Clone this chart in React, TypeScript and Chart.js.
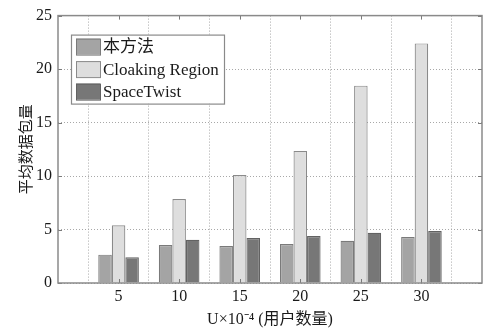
import React, { useEffect, useRef } from "react";
import { Chart, registerables } from "chart.js";

Chart.register(...registerables);

const categories = ["5", "10", "15", "20", "25", "30"];
const seriesNames = ["本方法", "Cloaking Region", "SpaceTwist"];
const ourMethod = [2.65, 3.55, 3.45, 3.65, 3.95, 4.3];
const cloakingRegion = [5.4, 7.85, 10.1, 12.35, 18.45, 22.4];
const spaceTwist = [2.4, 4.05, 4.2, 4.4, 4.7, 4.85];
const yTicks = [0, 5, 10, 15, 20, 25];

const fills = ["#a4a4a4", "#dedede", "#777777"];
const borders = ["#7a7a7a", "#8a8a8a", "#626262"];

const SERIF = '"Liberation Serif", "Times New Roman", "Noto Sans CJK SC", serif';

const pad = (arr: number[]) => [null, ...arr, null];

const boxPlugin = {
  id: "matlabBox",
  afterDatasetsDraw(chart: any) {
    const { ctx, chartArea: a, scales } = chart;
    ctx.save();
    ctx.strokeStyle = "#7a7a7a";
    ctx.lineWidth = 1;
    const xs = scales.x;
    for (let i = 1; i < xs.ticks.length - 1; i++) {
      const px = Math.round(xs.getPixelForTick(i)) + 0.5;
      ctx.beginPath();
      ctx.moveTo(px, a.bottom);
      ctx.lineTo(px, a.bottom - 4);
      ctx.moveTo(px, a.top);
      ctx.lineTo(px, a.top + 4);
      ctx.stroke();
    }
    const ys = scales.y;
    for (const v of yTicks) {
      const py = Math.round(ys.getPixelForValue(v)) + 0.5;
      ctx.beginPath();
      ctx.moveTo(a.left, py);
      ctx.lineTo(a.left + 4, py);
      ctx.moveTo(a.right, py);
      ctx.lineTo(a.right - 4, py);
      ctx.stroke();
    }
    ctx.strokeStyle = "#8a8a8a";
    ctx.lineWidth = 1.5;
    ctx.strokeRect(a.left, a.top, a.right - a.left, a.bottom - a.top);

    // legend box
    const lx = a.left + 13;
    const ly = a.top + 19;
    const lw = 153;
    const lh = 69;
    ctx.fillStyle = "#ffffff";
    ctx.fillRect(lx, ly, lw, lh);
    ctx.strokeStyle = "#8a8a8a";
    ctx.lineWidth = 1.2;
    ctx.strokeRect(lx + 0.5, ly + 0.5, lw, lh);
    ctx.font = "17px " + SERIF;
    ctx.textBaseline = "middle";
    ctx.textAlign = "left";
    chart.data.datasets.forEach((ds: any, i: number) => {
      const cy = ly + 12 + i * 22.5;
      ctx.fillStyle = ds.backgroundColor;
      ctx.fillRect(lx + 5, cy - 8, 24, 16);
      ctx.strokeStyle = ds.borderColor;
      ctx.lineWidth = 1;
      ctx.strokeRect(lx + 5.5, cy - 7.5, 24, 16);
      ctx.fillStyle = "#1a1a1a";
      ctx.fillText(ds.label, lx + 32, cy + 1);
    });
    ctx.restore();
  },
};

export default function App() {
  const ref = useRef<HTMLCanvasElement | null>(null);
  useEffect(() => {
    document.body.style.margin = "0";
    const canvas = ref.current;
    if (!canvas) return;
    const chart = new Chart(canvas, {
      type: "bar",
      data: {
        labels: ["", ...categories, ""],
        datasets: [ourMethod, cloakingRegion, spaceTwist].map((vals, i) => ({
          label: seriesNames[i],
          data: pad(vals) as any,
          backgroundColor: fills[i],
          borderColor: borders[i],
          borderWidth: 1.2,
          categoryPercentage: 0.67,
          barPercentage: 1.0,
        })),
      },
      options: {
        animation: false,
        responsive: false,
        maintainAspectRatio: false,
        layout: { padding: { top: 10, right: 2, left: 0, bottom: 0 } },
        plugins: {
          legend: { display: false },
          tooltip: { enabled: false },
        },
        scales: {
          x: {
            type: "category",
            offset: false,
            grid: {
              color: "#a8a8a8",
              lineWidth: 1,
              drawTicks: false,
            },
            border: { display: false, dash: [1, 2] },
            ticks: {
              color: "#1a1a1a",
              font: { family: SERIF, size: 16 },
              padding: 4,
              maxRotation: 0,
              autoSkip: false,
            },
            title: {
              display: true,
              text: "U×10⁻⁴ (用户数量)",
              color: "#1a1a1a",
              font: { family: SERIF, size: 16 },
              padding: { top: 0, bottom: 4 },
            },
            afterFit(scale: any) {
              scale.height = 50;
            },
          },
          y: {
            min: 0,
            max: 25,
            ticks: {
              stepSize: 5,
              color: "#1a1a1a",
              font: { family: SERIF, size: 16 },
              padding: 6,
            },
            grid: {
              color: "#a8a8a8",
              lineWidth: 1,
              drawTicks: false,
            },
            border: { display: false, dash: [1, 2] },
            title: {
              display: true,
              text: "平均数据包量",
              color: "#1a1a1a",
              font: { family: '"Noto Sans CJK SC", sans-serif', size: 15 },
              padding: { top: 16, bottom: 0 },
            },
            afterFit(scale: any) {
              scale.width = 58;
            },
          },
        },
      } as any,
      plugins: [boxPlugin],
    });
    return () => chart.destroy();
  }, []);
  return (
    <div style={{ width: 486, height: 333, background: "#fff" }}>
      <canvas ref={ref} width={486} height={333} style={{ display: "block" }} />
    </div>
  );
}
